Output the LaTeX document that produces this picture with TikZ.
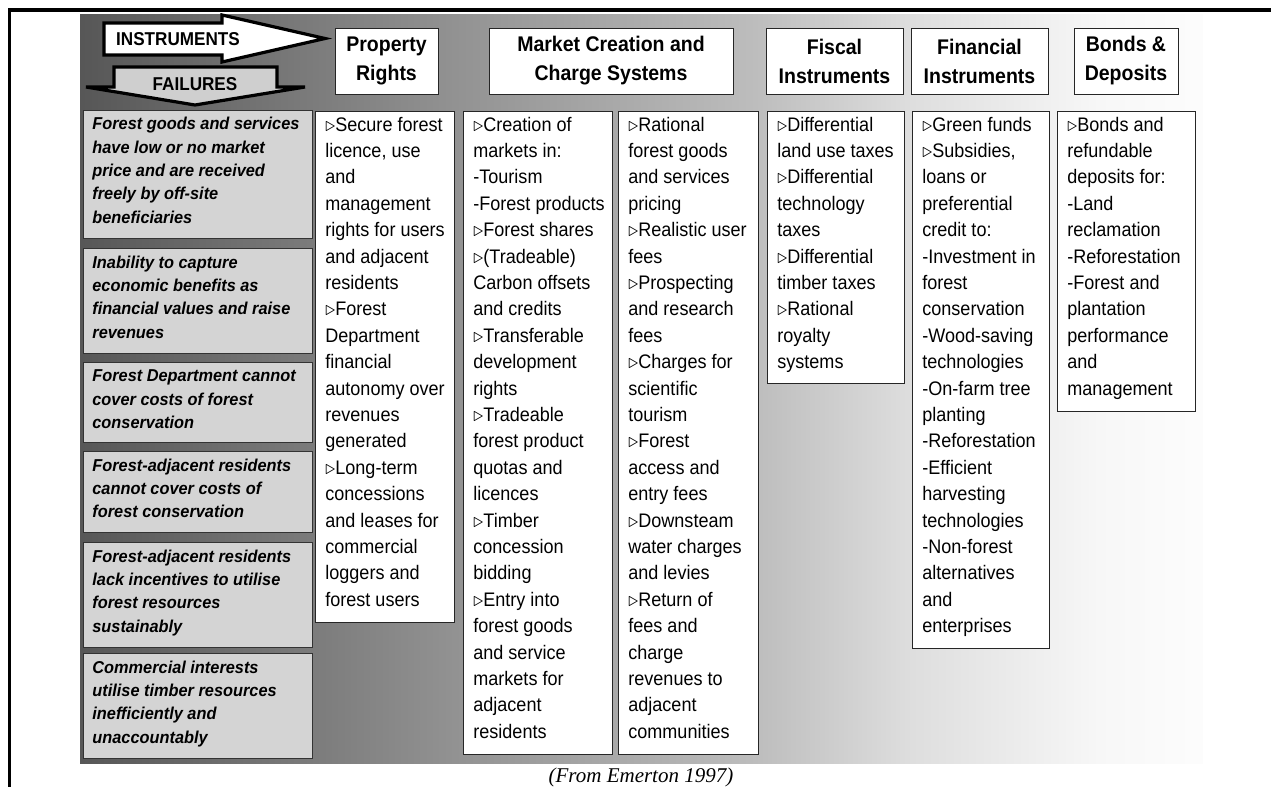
\documentclass[tikz,border=0pt]{standalone}
\usepackage{fontspec}
\setmainfont{Liberation Sans}[FakeStretch=0.92]
\newfontfamily\failfont{Liberation Sans}[FakeStretch=0.95]
\newfontfamily\capfont{Liberation Serif}
\usetikzlibrary{positioning}

% grey fade behind the table, dark on the left (the path covers 25bp--75bp)
\pgfdeclarehorizontalshading{bgfade}{100bp}{color(0bp)=(black!66); color(25bp)=(black!66);
  color(41.5bp)=(black!43); color(55bp)=(black!26); color(62bp)=(black!13);
  color(70.5bp)=(black!3); color(75bp)=(black!1); color(100bp)=(black!1)}

\newcommand\bul{$\triangleright$}

\begin{document}
\begin{tikzpicture}[x=0.5pt, y=-0.5pt,
    wh/.style 2 args={minimum width=#1*0.5pt, minimum height=#2*0.5pt},
    fail/.style={draw=black!80, fill=black!17, line width=0.6pt, anchor=north west, inner sep=0pt},
    cell/.style={draw=black!85, fill=white, line width=0.5pt, anchor=north west, inner sep=0pt},
    head/.style={draw=black!85, fill=white, line width=0.5pt, align=center, inner sep=0pt,
        font=\fontsize{10.6}{14.5}\selectfont\bfseries},
    failtext/.style={anchor=north west, align=left, inner sep=0pt, execute at begin node=\strut,
        font=\failfont\fontsize{8.6}{11.65}\selectfont\bfseries\itshape},
    celltext/.style={anchor=north west, align=left, inner sep=0pt, execute at begin node=\strut,
        font=\fontsize{9.8}{13.2}\selectfont},
    bigarrow/.style={draw=black, line width=1.6pt},
    arrowtext/.style={font=\fontsize{9.3}{11}\selectfont\bfseries, inner sep=0pt}]

    \useasboundingbox (0,0) rectangle (1271,787);
    \shade[shading=bgfade] (80,14) rectangle (1203,763);
    \draw[line width=1.6pt] (9.5,787) -- (9.5,10) -- (1271,10);

    % the two big arrows in the corner
    \draw[bigarrow, fill=white] (104,23) -- (222,23) -- (222,15) -- (325,38.5) -- (222,62) -- (222,55) -- (104,55) -- cycle;
    \node (instr) at (178,39) [arrowtext] {INSTRUMENTS};
    \draw[bigarrow, fill=black!19] (114,67) -- (277,67) -- (277,87) -- (305,87) -- (195,105) -- (86,87) -- (114,87) -- cycle;
    \node (fails) at (195,84) [arrowtext] {FAILURES};

    % column heads
    \node (prop) at (386.5,61) [head, wh={103}{66}] {Property\\Rights};
    \node (mkt) at (611,61) [head, wh={244}{66}] {Market Creation and\\Charge Systems};
    \node (fisc) at (834.5,61) [head, wh={137}{66}] {Fiscal\\Instruments};
    \node (fin) at (979.5,61) [head, wh={137}{66}] {Financial\\Instruments};
    \node (bond) at (1126,61) [head, wh={104}{66}] {Bonds \&\\Deposits};

    % failures
    \node (f1) at (83,110) [fail, wh={229}{128}] {};
    \node (f1t) at ([shift={(9,7)}]f1.north west) [failtext] {Forest goods and services\\have low or no market\\price and are received\\freely by off-site\\beneficiaries};
    \node (f2) at (83,248) [fail, wh={229}{105}] {};
    \node (f2t) at ([shift={(9,7.5)}]f2.north west) [failtext] {Inability to capture\\economic benefits as\\financial values and raise\\revenues};
    \node (f3) at (83,362) [fail, wh={229}{80}] {};
    \node (f3t) at ([shift={(9,7.5)}]f3.north west) [failtext] {Forest Department cannot\\cover costs of forest\\conservation};
    \node (f4) at (83,451) [fail, wh={229}{81}] {};
    \node (f4t) at ([shift={(9,7.5)}]f4.north west) [failtext] {Forest-adjacent residents\\cannot cover costs of\\forest conservation};
    \node (f5) at (83,542) [fail, wh={229}{105}] {};
    \node (f5t) at ([shift={(9,7.5)}]f5.north west) [failtext] {Forest-adjacent residents\\lack incentives to utilise\\forest resources\\sustainably};
    \node (f6) at (83,653) [fail, wh={229}{105}] {};
    \node (f6t) at ([shift={(9,7.5)}]f6.north west) [failtext] {Commercial interests\\utilise timber resources\\inefficiently and\\unaccountably};

    % instruments
    \node (propc) at (315,111) [cell, wh={139}{511}] {};
    \node (propt) at ([shift={(10,5.5)}]propc.north west) [celltext] {\bul Secure forest\\licence, use\\and\\management\\rights for users\\and adjacent\\residents\\\bul Forest\\Department\\financial\\autonomy over\\revenues\\generated\\\bul Long-term\\concessions\\and leases for\\commercial\\loggers and\\forest users};

    \node (mkta) at (463,111) [cell, wh={149}{643}] {};
    \node (mktat) at ([shift={(10,5.5)}]mkta.north west) [celltext] {\bul Creation of\\markets in:\\-Tourism\\-Forest products\\\bul Forest shares\\\bul (Tradeable)\\Carbon offsets\\and credits\\\bul Transferable\\development\\rights\\\bul Tradeable\\forest product\\quotas and\\licences\\\bul Timber\\concession\\bidding\\\bul Entry into\\forest goods\\and service\\markets for\\adjacent\\residents};

    \node (mktb) at (618,111) [cell, wh={140}{643}] {};
    \node (mktbt) at ([shift={(10,5.5)}]mktb.north west) [celltext] {\bul Rational\\forest goods\\and services\\pricing\\\bul Realistic user\\fees\\\bul Prospecting\\and research\\fees\\\bul Charges for\\scientific\\tourism\\\bul Forest\\access and\\entry fees\\\bul Downsteam\\water charges\\and levies\\\bul Return of\\fees and\\charge\\revenues to\\adjacent\\communities};

    \node (fiscc) at (767,111) [cell, wh={137}{272}] {};
    \node (fisct) at ([shift={(10,5.5)}]fiscc.north west) [celltext] {\bul Differential\\land use taxes\\\bul Differential\\technology\\taxes\\\bul Differential\\timber taxes\\\bul Rational\\royalty\\systems};

    \node (finc) at (912,111) [cell, wh={137}{537}] {};
    \node (fint) at ([shift={(10,5.5)}]finc.north west) [celltext] {\bul Green funds\\\bul Subsidies,\\loans or\\preferential\\credit to:\\-Investment in\\forest\\conservation\\-Wood-saving\\technologies\\-On-farm tree\\planting\\-Reforestation\\-Efficient\\harvesting\\technologies\\-Non-forest\\alternatives\\and\\enterprises};

    \node (bondc) at (1057,111) [cell, wh={138}{300}] {};
    \node (bondt) at ([shift={(10,5.5)}]bondc.north west) [celltext] {\bul Bonds and\\refundable\\deposits for:\\-Land\\reclamation\\-Reforestation\\-Forest and\\plantation\\performance\\and\\management};

    \node (src) at (641,777) [font={\capfont\itshape\fontsize{10.5}{12}\selectfont}, inner sep=0pt] {(From Emerton 1997)};
\end{tikzpicture}
\end{document}
